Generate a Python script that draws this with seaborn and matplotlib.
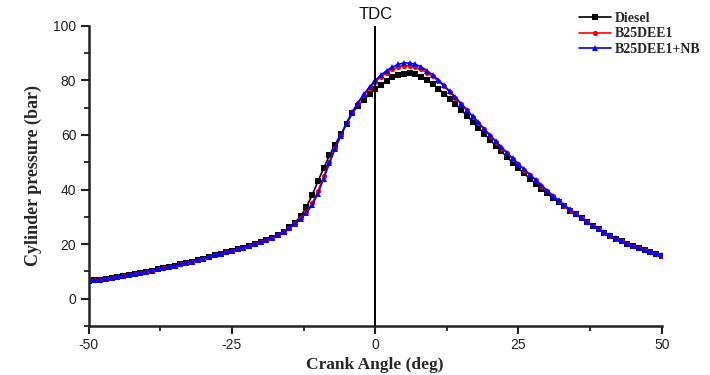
import numpy as np
import pandas as pd
import matplotlib
matplotlib.use("Agg")
import matplotlib.pyplot as plt
import seaborn as sns
from matplotlib.ticker import MultipleLocator

# Crank angle (deg)
crank_angle = np.arange(-50, 51, 1)

# Compression part, common to all fuels (-50 .. -17 deg)
common_compression = [
    6.4, 6.7, 7.0, 7.3, 7.6, 7.9, 8.3, 8.6, 9.0, 9.4,
    9.9, 10.3, 10.7, 11.1, 11.6, 12.1, 12.6, 13.1, 13.6, 14.2,
    14.7, 15.3, 15.9, 16.4, 17.0, 17.5, 18.1, 18.7, 19.3, 19.9,
    20.6, 21.4, 22.3, 23.3,
]

# -16 .. 50 deg
diesel_rest = [
    24.6, 26.1, 27.9, 30.2, 33.5, 38.0, 43.0, 47.8, 52.5, 56.5,
    60.3, 64.2, 67.9, 70.8, 72.9, 75.0, 76.7, 78.4, 79.9, 81.1,
    82.0, 82.5, 82.6, 82.2, 81.2, 80.0, 78.6, 77.0, 75.2, 73.3,
    71.3, 69.2, 67.1, 64.9, 62.7, 60.5, 58.3, 56.1, 54.0, 51.9,
    49.8, 47.8, 45.9, 44.0, 42.1, 40.3, 38.6, 36.9, 35.3, 33.8,
    32.3, 30.9, 29.5, 28.1, 26.7, 25.4, 24.2, 23.1, 22.0, 21.0,
    20.1, 19.3, 18.5, 17.8, 17.1, 16.4, 15.8,
]
b25dee1_rest = [
    24.5, 25.9, 27.6, 29.6, 31.9, 35.0, 39.4, 44.8, 50.2, 55.3,
    59.9, 64.3, 68.4, 71.9, 74.8, 77.2, 79.4, 81.3, 82.9, 84.1,
    84.9, 85.3, 85.3, 84.9, 84.1, 82.9, 81.5, 79.8, 77.9, 75.8,
    73.6, 71.3, 69.0, 66.7, 64.4, 62.1, 59.8, 57.6, 55.4, 53.3,
    51.2, 49.2, 47.2, 45.3, 43.4, 41.4, 39.4, 37.6, 35.8, 34.1,
    32.5, 31.0, 29.5, 28.1, 26.7, 25.4, 24.2, 23.1, 22.0, 21.0,
    20.1, 19.3, 18.5, 17.8, 17.1, 16.4, 15.8,
]
b25dee1_nb_rest = [
    24.4, 25.8, 27.4, 29.3, 31.5, 34.3, 38.5, 44.0, 49.6, 55.0,
    59.8, 64.3, 68.3, 71.8, 74.9, 77.6, 80.0, 82.0, 83.6, 84.9,
    85.9, 86.4, 86.4, 85.9, 85.0, 83.6, 82.0, 80.2, 78.2, 76.0,
    73.8, 71.5, 69.2, 66.9, 64.6, 62.3, 60.0, 57.8, 55.6, 53.5,
    51.4, 49.4, 47.4, 45.5, 43.6, 41.6, 39.6, 37.8, 36.0, 34.3,
    32.7, 31.1, 29.6, 28.2, 26.8, 25.5, 24.3, 23.2, 22.1, 21.1,
    20.2, 19.4, 18.6, 17.9, 17.2, 16.5, 15.9,
]

series_names = ["Diesel", "B25DEE1", "B25DEE1+NB"]
series_values = [
    common_compression + diesel_rest,
    common_compression + b25dee1_rest,
    common_compression + b25dee1_nb_rest,
]
series_colors = ["black", "#ff0000", "#0000ff"]
series_markers = ["s", "o", "^"]

x_ticks = [-50, -25, 0, 25, 50]
y_ticks = [0, 20, 40, 60, 80, 100]

sns.set_theme(style="ticks")
plt.rcParams["font.family"] = ["Liberation Sans", "DejaVu Sans"]
plt.rcParams["axes.unicode_minus"] = False

fig = plt.figure(figsize=(7.1, 3.75), dpi=100)
ax = fig.add_axes([0.125, 0.131, 0.807, 0.80])

for name, vals, col, mk in zip(series_names, series_values, series_colors, series_markers):
    df = pd.DataFrame({"angle": crank_angle, "pressure": vals})
    sns.lineplot(data=df, x="angle", y="pressure", ax=ax, color=col, marker=mk,
                 markersize=3.8, markeredgewidth=0, linewidth=1.2, label=name)

ax.axvline(0, color="black", linewidth=1.4, zorder=5)
ax.text(0, 101.5, "TDC", ha="center", va="bottom", fontsize=12, color="#111111")

ax.set_xlim(-50, 50)
ax.set_ylim(-10, 100)
ax.set_xticks(x_ticks)
ax.set_yticks(y_ticks)
ax.xaxis.set_minor_locator(MultipleLocator(12.5))
ax.yaxis.set_minor_locator(MultipleLocator(10))
ax.tick_params(which="major", direction="out", length=6, width=1.5, labelsize=10, colors="#222222", pad=3)
ax.tick_params(which="minor", direction="out", length=3.5, width=1.3, colors="#222222")

for side in ["top", "right"]:
    ax.spines[side].set_visible(False)
for side in ["left", "bottom"]:
    ax.spines[side].set_linewidth(1.8)
    ax.spines[side].set_color("#222222")

ax.set_xlabel("Crank Angle (deg)", fontfamily="Liberation Serif", fontweight="bold", fontsize=12.5)
ax.xaxis.set_label_coords(0.5, -0.103)
ax.set_ylabel("Cylinder pressure (bar)", fontfamily="Liberation Serif", fontweight="bold", fontsize=13, labelpad=8)

handles, labels = ax.get_legend_handles_labels()
ax.legend_.remove()
fig.legend(handles, labels, loc="upper left", bbox_to_anchor=(0.802, 0.995), frameon=False,
           prop={"family": "Liberation Serif", "weight": "bold", "size": 10},
           handlelength=2.3, handletextpad=0.3, labelspacing=0.2, borderpad=0.2)

fig.savefig("out.png", dpi=100)
